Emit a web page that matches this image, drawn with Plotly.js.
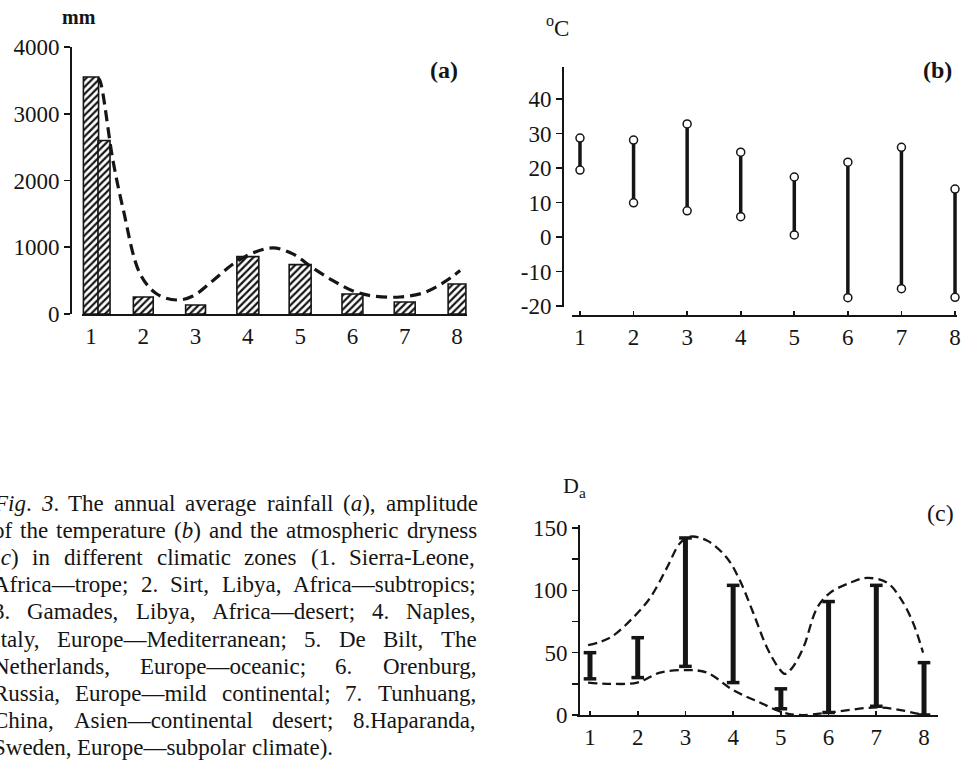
<!DOCTYPE html>
<html>
<head>
<meta charset="utf-8">
<script src="https://cdn.plot.ly/plotly-3.0.1.min.js"></script>
<style>html,body{margin:0;padding:0;background:#fff;}#chart{width:969px;height:760px;}</style>
</head>
<body>
<div id="chart"></div>
<script>
// ---------- data ----------
const cats = [1, 2, 3, 4, 5, 6, 7, 8];
const catLabels = ['1', '2', '3', '4', '5', '6', '7', '8'];

// (a) annual average rainfall, mm
const rainfall = [3550, 255, 135, 860, 740, 300, 180, 450];
const rainfallExtraX = [1];
const rainfallExtra = [2600];
const rainCurveX = [1.13, 1.17, 1.42, 1.61, 1.94, 2.26, 2.64, 2.95, 3.33, 3.72, 4.10, 4.48, 4.86, 5.24, 5.63, 6.01, 6.39, 6.91, 7.35, 7.73, 8.06];
const rainCurveY = [3540, 3500, 2300, 1590, 600, 300, 210, 270, 500, 750, 915, 990, 900, 690, 500, 345, 270, 255, 315, 465, 650];
const rainTicks = [0, 1000, 2000, 3000, 4000];
const rainTickText = ['0', '1000', '2000', '3000', '4000'];

// (b) temperature amplitude, °C
const tempHigh = [28.7, 28.1, 32.8, 24.6, 17.4, 21.7, 26.0, 13.9];
const tempLow = [19.4, 9.9, 7.6, 5.9, 0.6, -17.6, -15.0, -17.5];
const tempTicks = [-20, -10, 0, 10, 20, 30, 40];
const tempTickText = ['-20', '-10', '0', '10', '20', '30', '40'];

// (c) atmospheric dryness D_a
const daHigh = [50, 62, 142, 104, 21, 91, 104, 42];
const daLow = [29, 30, 39, 26, 5, 2, 7, 0];
const daUpperX = [0.96, 1.42, 1.90, 2.26, 2.61, 2.89, 3.10, 3.45, 3.87, 4.14, 4.42, 4.71, 4.95, 5.08, 5.22, 5.47, 5.76, 6.03, 6.45, 6.81, 7.23, 7.50, 7.77, 7.98];
const daUpperY = [56, 62, 78, 94, 118, 138, 143, 140, 126, 108, 82, 54, 38, 33, 37, 54, 86, 98, 106, 110, 106, 94, 74, 50];
const daLowerX = [0.96, 1.42, 1.99, 2.47, 3.03, 3.45, 4.0, 4.56, 5.05, 5.40, 6.03, 7.08, 7.98];
const daLowerY = [26, 25, 26, 34, 36, 34, 20, 10, 2, 0, 2, 6, 0];
const daTicks = [0, 25, 50, 75, 100, 125, 150];
const daTickText = ['0', '', '50', '', '100', '', '150'];

// caption
const captionLines = [
  '<i>Fig</i>. <i>3</i>. The annual average rainfall (<i>a</i>), amplitude',
  'of the temperature (<i>b</i>) and the atmospheric dryness',
  '(<i>c</i>) in different climatic zones (1. Sierra-Leone,',
  'Africa—trope; 2. Sirt, Libya, Africa—subtropics;',
  '3. Gamades, Libya, Africa—desert; 4. Naples,',
  'Italy, Europe—Mediterranean; 5. De Bilt, The',
  'Netherlands, Europe—oceanic; 6. Orenburg,',
  'Russia, Europe—mild continental; 7. Tunhuang,',
  'China, Asien—continental desert; 8.Haparanda,',
  'Sweden, Europe—subpolar climate).'
];

// ---------- helpers ----------
const W = 969, H = 760;
const px = x => x / W;
const py = y => 1 - y / H;
const FONT = 'Liberation Serif, Times New Roman, serif';
const INK = '#151515';
const tickFont = {family: FONT, size: 23, color: INK};

function segments(xs, lo, hi) {
  const X = [], Y = [];
  xs.forEach((x, i) => { X.push(x, x, null); Y.push(lo[i], hi[i], null); });
  return {X, Y};
}

const bSeg = segments(cats, tempLow, tempHigh);
const cSeg = segments(cats, daLow, daHigh);
const hatch = {shape: '/', fgcolor: INK, bgcolor: 'white', size: 5, solidity: 0.45};

const traces = [
  // (a)
  {type: 'bar', x: cats, y: rainfall, xaxis: 'x', yaxis: 'y',
   width: [0.29, 0.38, 0.38, 0.42, 0.42, 0.40, 0.40, 0.34],
   marker: {color: 'white', line: {color: INK, width: 1.6}, pattern: hatch},
   hoverinfo: 'skip', showlegend: false},
  {type: 'bar', x: rainfallExtraX, y: rainfallExtra, xaxis: 'x', yaxis: 'y',
   offset: 0.134, width: 0.23,
   marker: {color: 'white', line: {color: INK, width: 1.6}, pattern: hatch},
   hoverinfo: 'skip', showlegend: false},
  {type: 'scatter', mode: 'lines', x: rainCurveX, y: rainCurveY, xaxis: 'x', yaxis: 'y',
   line: {color: INK, width: 3.2, dash: '11px,6px', shape: 'spline', smoothing: 1},
   cliponaxis: false, showlegend: false, hoverinfo: 'skip'},
  // (b)
  {type: 'scatter', mode: 'lines', x: bSeg.X, y: bSeg.Y, xaxis: 'x2', yaxis: 'y2',
   line: {color: INK, width: 3.5}, connectgaps: false, showlegend: false, hoverinfo: 'skip'},
  {type: 'scatter', mode: 'markers', x: cats.concat(cats), y: tempLow.concat(tempHigh), xaxis: 'x2', yaxis: 'y2',
   marker: {symbol: 'circle', size: 8, color: 'white', line: {color: INK, width: 1.5}},
   cliponaxis: false, showlegend: false, hoverinfo: 'skip'},
  // (c)
  {type: 'scatter', mode: 'lines', x: daUpperX, y: daUpperY, xaxis: 'x3', yaxis: 'y3',
   line: {color: INK, width: 2.3, dash: '9px,5px', shape: 'spline', smoothing: 1},
   cliponaxis: false, showlegend: false, hoverinfo: 'skip'},
  {type: 'scatter', mode: 'lines', x: daLowerX, y: daLowerY, xaxis: 'x3', yaxis: 'y3',
   line: {color: INK, width: 2.3, dash: '9px,5px', shape: 'spline', smoothing: 1},
   cliponaxis: false, showlegend: false, hoverinfo: 'skip'},
  {type: 'scatter', mode: 'lines', x: cSeg.X, y: cSeg.Y, xaxis: 'x3', yaxis: 'y3',
   line: {color: INK, width: 5}, connectgaps: false, showlegend: false, hoverinfo: 'skip'},
  {type: 'scatter', mode: 'markers', x: cats.concat(cats), y: daLow.concat(daHigh), xaxis: 'x3', yaxis: 'y3',
   marker: {symbol: 'line-ew', size: 9, line: {color: INK, width: 3.5}},
   cliponaxis: false, showlegend: false, hoverinfo: 'skip'}
];

const baseAx = {showgrid: false, zeroline: false, showline: true, linecolor: INK, linewidth: 2,
  ticks: 'outside', ticklen: 6, tickwidth: 1.6, tickcolor: INK, tickfont: tickFont, fixedrange: true, tickmode: 'array'};
const overAx = {showgrid: false, zeroline: false, showline: false, showticklabels: false,
  ticks: 'inside', ticklen: 5, tickwidth: 1.6, tickcolor: INK, fixedrange: true, tickmode: 'array'};

const xA = {range: [0.828, 8.191], tickvals: cats, ticktext: catLabels};
const xB = {range: [0.851, 8.037], tickvals: cats, ticktext: catLabels};
const xC = {range: [0.7275, 8.293], tickvals: cats, ticktext: catLabels};
const yA = {range: [0, 4000], tickvals: rainTicks, ticktext: rainTickText};
const yB = {range: [-20.3, 49.3], tickvals: tempTicks, ticktext: tempTickText};
const yC = {range: [-0.8, 152.4], tickvals: daTicks, ticktext: daTickText};

const layout = {
  width: W, height: H,
  margin: {l: 0, r: 0, t: 0, b: 0, pad: 0},
  paper_bgcolor: 'white', plot_bgcolor: 'rgba(0,0,0,0)',
  showlegend: false, barmode: 'overlay', bargap: 0,
  font: {family: FONT, color: INK},
  // (a) x labels on an axis without ticks; ticks drawn below by overlay
  xaxis: Object.assign({}, baseAx, xA, {domain: [px(82), px(467)], anchor: 'y', ticks: '', ticklabelstandoff: 0}),
  xaxis6: Object.assign({}, overAx, xA, {overlaying: 'x', anchor: 'y', ticks: 'outside', ticklen: 7}),
  yaxis: Object.assign({}, baseAx, yA, {domain: [py(314), py(47)], anchor: 'free', position: px(71)}),
  yaxis4: Object.assign({}, overAx, yA, {overlaying: 'y', anchor: 'free', position: px(71)}),
  // (b)
  xaxis2: Object.assign({}, baseAx, xB, {domain: [px(572), px(957)], anchor: 'free', position: py(316), ticks: 'inside', ticklen: 4}),
  xaxis4: Object.assign({}, overAx, xB, {overlaying: 'x2', anchor: 'free', position: py(316), ticks: 'outside', ticklen: 6}),
  yaxis2: Object.assign({}, baseAx, yB, {domain: [py(307), py(67)], anchor: 'free', position: px(563)}),
  yaxis5: Object.assign({}, overAx, yB, {overlaying: 'y2', anchor: 'free', position: px(563)}),
  // (c)
  xaxis3: Object.assign({}, baseAx, xC, {domain: [px(577), px(938)], anchor: 'free', position: py(716), ticks: 'inside', ticklen: 4}),
  xaxis5: Object.assign({}, overAx, xC, {overlaying: 'x3', anchor: 'free', position: py(716), ticks: 'outside', ticklen: 6}),
  yaxis3: Object.assign({}, baseAx, yC, {domain: [py(716), py(525)], anchor: 'free', position: px(579)}),
  yaxis6: Object.assign({}, overAx, yC, {overlaying: 'y3', anchor: 'free', position: px(579)}),
  annotations: []
};

const ann = (x, y, text, size, extra) => Object.assign({
  xref: 'paper', yref: 'paper', x: px(x), y: py(y), text: text, showarrow: false,
  xanchor: 'center', yanchor: 'middle', font: {family: FONT, size: size, color: INK}
}, extra || {});

layout.annotations.push(ann(444, 70, '<b>(a)</b>', 24));
layout.annotations.push(ann(937, 70, '<b>(b)</b>', 24));
layout.annotations.push(ann(940, 513, '(c)', 24));
layout.annotations.push(ann(79, 17, '<b>mm</b>', 20));
layout.annotations.push(ann(557, 27, '<sup>o</sup>C', 23));
layout.annotations.push(ann(574, 487, 'D<sub>a</sub>', 22));

// caption: justified per word
const capSize = 23;
const canvas = document.createElement('canvas');
const ctx = canvas.getContext('2d');
function measure(t) {
  const italic = t.indexOf('<i>') >= 0 && t.replace(/<[^>]+>/g, '').length <= 4;
  ctx.font = (italic ? 'italic ' : '') + capSize + 'px "Liberation Serif"';
  return ctx.measureText(t.replace(/<[^>]+>/g, '')).width;
}
const capLeft = -8;
const capRights = [477, 476, 474, 475, 475, 476, 475, 475, 475, null];
captionLines.forEach((line, i) => {
  const y = 503 + 27.2 * i;
  const words = line.split(' ');
  const widths = words.map(measure);
  const total = widths.reduce((a, b) => a + b, 0);
  ctx.font = capSize + 'px "Liberation Serif"';
  const spaceW = ctx.measureText(' ').width;
  const R = capRights[i];
  const gap = R === null ? spaceW : (R - capLeft - total) / (words.length - 1);
  let cur = capLeft;
  words.forEach((w, k) => {
    layout.annotations.push(ann(cur, y, w, capSize, {xanchor: 'left', borderpad: 0}));
    cur += widths[k] + gap;
  });
});

Plotly.newPlot('chart', traces, layout, {staticPlot: true, displayModeBar: false});
</script>
</body>
</html>
